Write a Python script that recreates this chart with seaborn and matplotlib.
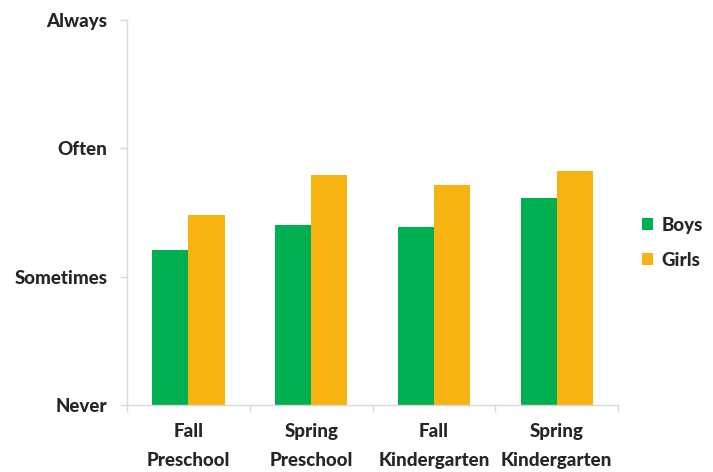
import matplotlib
matplotlib.use("Agg")
import matplotlib.pyplot as plt
import seaborn as sns
import pandas as pd
from matplotlib.patches import Patch
from matplotlib.ticker import FixedLocator

# Rating scale: 1 = Never, 2 = Sometimes, 3 = Often, 4 = Always
categories = ["Fall\nPreschool", "Spring\nPreschool", "Fall\nKindergarten", "Spring\nKindergarten"]
boys = [2.21, 2.40, 2.39, 2.61]
girls = [2.48, 2.79, 2.71, 2.82]
groups = ["Boys", "Girls"]
y_labels = ["Never", "Sometimes", "Often", "Always"]
y_values = [1, 2, 3, 4]

df = pd.DataFrame({
    "period": categories * 2,
    "group": ["Boys"] * len(categories) + ["Girls"] * len(categories),
    "rating": boys + girls,
})

sns.set_theme(style="white")
plt.rcParams["font.family"] = ["Lato", "DejaVu Sans"]

colors = {"Boys": "#00AF50", "Girls": "#F7B30F"}
FS = 13.5
WEIGHT = "black"

fig = plt.figure(figsize=(7.13, 4.72), dpi=100)
ax = fig.add_axes([0.178, 0.142, 0.689, 0.816])

sns.barplot(data=df, x="period", y="rating", hue="group", hue_order=groups,
            palette=colors, width=0.59, ax=ax, legend=False,
            saturation=1)

# bars start at the "Never" baseline
for patch in ax.patches:
    h = patch.get_height()
    patch.set_y(1)
    patch.set_height(h - 1)
    patch.set_linewidth(0)

ax.set_ylim(1, 4)
ax.set_xlim(-0.5, len(categories) - 0.5)
ax.set_yticks(y_values)
ax.set_yticklabels(y_labels, fontsize=FS, fontweight=WEIGHT)
ax.set_xticks(range(len(categories)))
ax.set_xticklabels(categories, fontsize=FS, fontweight=WEIGHT, linespacing=1.85)
ax.xaxis.set_minor_locator(FixedLocator([i - 0.5 for i in range(len(categories) + 1)]))
ax.tick_params(axis="x", which="major", length=0, pad=13)
ax.tick_params(axis="x", which="minor", length=5, color="#d9d9d9", width=1, direction="out", bottom=True)
ax.tick_params(axis="y", length=5, color="#d9d9d9", width=1, direction="out", left=True, pad=9)
ax.set_xlabel("")
ax.set_ylabel("")

for side in ["top", "right"]:
    ax.spines[side].set_visible(False)
for side in ["left", "bottom"]:
    ax.spines[side].set_color("#d9d9d9")
    ax.spines[side].set_linewidth(1)

handles = [Patch(facecolor=colors[g], edgecolor="none", label=g) for g in groups]
fig.legend(handles=handles, loc="center left", bbox_to_anchor=(0.877, 0.486),
           frameon=False, prop={"family": ["Lato"], "weight": WEIGHT, "size": FS},
           handlelength=0.6, handleheight=0.6, handletextpad=0.45, labelspacing=0.95)

fig.savefig("out.png", dpi=100, facecolor="white")
